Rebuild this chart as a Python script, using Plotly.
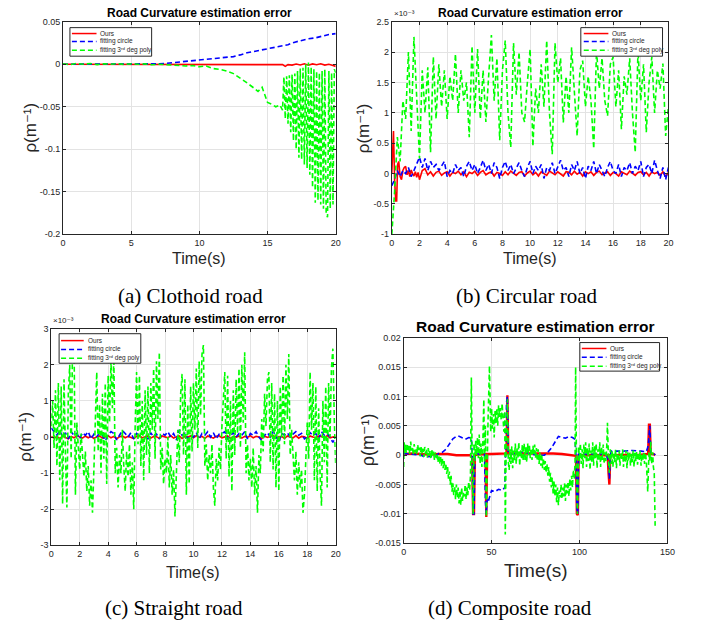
import plotly.graph_objects as go

W, H = 703, 632

# ---------------- DATA ----------------
# (a) Clothoid road  (time s, curvature error)
a_red_pts = [(0, 0), (15.9, 0), (16.1, -0.0005), (16.3, -0.0025), (16.5, -0.0005), (16.8, -0.001),
             (17.1, 0.0003), (17.4, -0.0008), (17.7, 0.0005), (18.0, -0.0012), (18.3, 0.0004),
             (18.6, -0.0006), (18.9, 0.0006), (19.2, -0.001), (19.5, 0.0), (19.8, -0.0015), (20.0, -0.0025)]
a_blue_pts = [(0, 0), (2, 0), (4, 0), (6, 0.0002), (7, 0.0005), (7.5, 0.001), (8, 0.0018), (8.5, 0.0025),
              (9, 0.0033), (9.5, 0.004), (10, 0.005), (11, 0.0065), (12, 0.008), (12.5, 0.009),
              (13, 0.011), (13.5, 0.0135), (14, 0.015), (14.5, 0.0165), (15, 0.0184), (15.5, 0.020),
              (16, 0.021), (16.5, 0.023), (17, 0.026), (17.5, 0.028), (18, 0.030), (18.5, 0.031),
              (19, 0.033), (19.5, 0.035), (20, 0.036)]
a_green_pts = [(0, 0.0005), (0.5, -0.0005), (1, 0.001), (1.5, 0.0), (2, 0.0008), (2.5, -0.0004), (3, 0.0006),
               (3.5, 0.0), (4, 0.0008), (4.5, -0.0003), (5, 0.0005), (5.5, 0.0), (6, 0.0004), (6.5, -0.0006),
               (7, 0.0), (7.5, -0.0005), (8, -0.001), (8.5, -0.0008), (9, -0.002), (9.5, -0.0015), (10, -0.003),
               (10.5, -0.002), (11, -0.005), (11.5, -0.006), (12, -0.008), (12.5, -0.011), (13, -0.016),
               (13.5, -0.022), (14, -0.028), (14.3, -0.032), (14.6, -0.027), (14.8, -0.036), (15, -0.045),
               (15.3, -0.047), (15.6, -0.05), (15.9, -0.048), (16.1, -0.054),
               (16.2, -0.015), (16.3, -0.064), (16.4, -0.014), (16.5, -0.07), (16.6, -0.013), (16.7, -0.08),
               (16.8, -0.012), (16.9, -0.09), (17.0, -0.011), (17.1, -0.1), (17.2, -0.008), (17.3, -0.11),
               (17.4, -0.005), (17.5, -0.112), (17.6, -0.004), (17.7, -0.118), (17.8, 0.0), (17.9, -0.122),
               (18.0, 0.002), (18.1, -0.13), (18.2, -0.003), (18.3, -0.145), (18.4, -0.006), (18.5, -0.163),
               (18.6, -0.008), (18.7, -0.16), (18.8, -0.01), (18.9, -0.165), (19.0, -0.008), (19.1, -0.17),
               (19.2, -0.006), (19.3, -0.175), (19.4, -0.18), (19.5, -0.008), (19.6, -0.17), (19.7, -0.01),
               (19.8, -0.165), (19.9, -0.006), (20.0, -0.01)]

# (b) Circular road, values in units of 1e-3
b_step = 0.2
b_red_head_pts = [(0, 0.0), (0.08, 0.7), (0.12, 0.7), (0.2, -0.1), (0.28, -0.45), (0.35, -0.45), (0.42, 0.15),
                  (0.5, 0.2), (0.6, -0.05), (0.7, -0.1), (0.8, 0.05), (0.9, 0.1), (1.0, 0.12), (1.1, -0.02),
                  (1.2, 0.05), (1.3, -0.05), (1.4, 0.06), (1.5, 0.0), (1.6, -0.04), (1.7, 0.03), (1.8, -0.06),
                  (1.9, 0.02)]
b_red_tail = [-0.1, 0.05, 0.08, -0.02, 0.03,
              -0.04, 0.02, 0.04, -0.03, 0.01,
              0.03, -0.04, 0.02, 0.0, 0.04,
              -0.02, 0.03, -0.05, 0.02, 0.0,
              0.04, -0.03, 0.02, 0.05, -0.02,
              0.01, 0.03, -0.04, 0.02, 0.0,
              -0.03, 0.03, -0.02, 0.04, 0.0,
              -0.03, 0.02, 0.03, -0.04, 0.01,
              0.04, -0.02, 0.02, -0.04, 0.03,
              0.0, -0.03, 0.04, 0.01, -0.02,
              0.03, 0.0, -0.04, 0.03, 0.02,
              -0.02, 0.04, -0.01, 0.02, -0.04,
              0.03, 0.0, 0.03, -0.03, 0.02,
              0.04, -0.02, 0.01, 0.03, -0.03,
              0.02, 0.0, -0.04, 0.03, 0.01,
              -0.02, 0.04, 0.0, -0.03, 0.02,
              0.03, -0.02, 0.02, -0.04, 0.03,
              0.0, 0.02, -0.03, 0.03, -0.05,
              0.02]
b_blue = [-0.2, -0.1, 0.05, -0.05, 0.05, 0.0, 0.1, -0.05, 0.05, 0.15,
          0.27, 0.1, 0.25, 0.05, 0.2, 0.1, 0.15, 0.05, 0.12, 0.2,
          -0.05, 0.05, 0.0, 0.15, 0.05, 0.1, -0.05, 0.12, 0.2, 0.05,
          0.15, 0.0, 0.1, 0.22, 0.05, 0.15, 0.0, 0.18, 0.1, -0.08,
          0.1, 0.2, 0.05, 0.15, 0.0, 0.1, 0.18, 0.05, -0.05, 0.1,
          0.2, 0.0, 0.12, 0.05, 0.15, -0.08, 0.1, 0.05, 0.18, 0.0,
          0.12, 0.22, 0.05, 0.1, -0.05, 0.15, 0.05, 0.2, 0.0, 0.1,
          -0.08, 0.12, 0.05, 0.2, 0.0, 0.15, 0.05, -0.05, 0.1, 0.2,
          0.05, 0.0, 0.15, -0.05, 0.1, 0.05, 0.18, 0.0, 0.12, 0.05,
          0.2, -0.05, 0.1, 0.15, 0.0, 0.22, 0.05, -0.08, 0.1, -0.1,
          0.1]
b_green = [-1.0, -0.3, 0.6, 0.2, 1.2, 0.9, 2.0, 0.7, 2.25, 1.3,
           0.25, 1.7, 1.0, 1.75, 0.35, 1.92, 0.9, 1.8, 1.1, 1.7,
           0.9, 1.6, 1.2, 1.97, 1.0, 1.7, 1.2, 1.5, 0.6, 2.1,
           1.0, 2.05, 0.9, 1.7, 0.85, 1.6, 2.28, 1.2, 1.9, 0.55,
           1.7, 2.19, 1.0, 0.43, 2.15, 1.3, 2.0, 1.0, 0.85, 1.5,
           2.05, 0.45, 1.4, 1.0, 1.8, 1.1, 2.19, 1.0, 0.32, 2.15,
           1.5, 1.9, 0.84, 1.6, 1.0, 2.08, 1.3, 0.62, 1.7, 1.86,
           1.1, 1.6, 1.2, 0.41, 2.03, 1.4, 1.9, 1.2, 0.95, 1.8,
           1.92, 1.1, 1.7, 0.73, 1.6, 1.3, 1.9, 1.0, 0.35, 2.03,
           1.2, 1.8, 0.68, 1.5, 1.92, 1.0, 1.7, 1.4, 1.81, 0.62,
           1.1]

# (c) Straight road, values in units of 1e-3
c_step_lines = 0.2
c_step_green = 0.1
c_red = [0.02, -0.03, 0.01, -0.04, 0.03, 0.0, -0.05, 0.02, -0.02, 0.04,
         0.0, -0.03, 0.03, -0.02, 0.02, -0.04, 0.01, 0.03, -0.03, 0.0,
         0.04, -0.02, 0.02, -0.05, 0.01, 0.03, -0.02, 0.02, 0.0, -0.04,
         0.02, 0.04, -0.02, 0.0, 0.03, -0.03, 0.02, 0.01, -0.04, 0.03,
         0.0, -0.02, 0.04, -0.03, 0.01, 0.03, -0.04, 0.02, 0.0, 0.03,
         -0.02, 0.04, -0.01, 0.02, -0.04, 0.03, 0.0, -0.03, 0.02, 0.04,
         -0.02, 0.01, 0.03, -0.04, 0.02, 0.0, 0.03, -0.03, 0.02, -0.01,
         0.04, -0.02, 0.02, 0.0, -0.04, 0.03, -0.01, 0.02, 0.04, -0.03,
         0.01, 0.02, -0.04, 0.03, 0.0, -0.02, 0.04, -0.03, 0.02, 0.01,
         -0.04, 0.03, 0.0, -0.02, 0.03, 0.02, -0.03, 0.04, -0.02, 0.01,
         0.02]
c_blue = [0.25, 0.15, 0.05, 0.18, 0.0, 0.12, -0.05, 0.15, 0.05, 0.1,
          -0.05, 0.12, 0.05, 0.15, -0.05, 0.08, 0.0, 0.12, 0.05, -0.1,
          0.05, 0.15, 0.1, -0.08, 0.05, 0.18, 0.1, 0.0, 0.12, -0.05,
          0.1, 0.05, 0.15, 0.0, -0.05, 0.12, 0.0, 0.08, -0.05, 0.1,
          0.05, 0.15, 0.0, 0.1, -0.08, 0.2, 0.05, 0.1, -0.05, 0.05,
          0.0, 0.12, -0.05, 0.1, 0.05, 0.15, 0.0, 0.12, -0.05, 0.08,
          0.1, 0.15, -0.05, 0.05, 0.12, 0.0, 0.1, 0.05, 0.15, -0.05,
          0.1, 0.05, 0.15, 0.0, -0.1, 0.05, 0.12, 0.0, 0.15, 0.05,
          -0.15, 0.1, 0.05, 0.12, 0.0, 0.08, 0.15, 0.05, 0.1, -0.05,
          0.0, 0.12, 0.05, 0.1, -0.05, 0.15, 0.05, 0.1, 0.0, -0.15,
          0.0]
c_green = [0.3, 1.0, -0.3, 1.3, -0.8, 1.5, -1.2, 1.4, -1.85, 1.6,
           -0.5, -1.95, 1.2, 2.0, -0.6, 2.6, 2.8, -1.6, 0.4, -0.3,
           -0.9, 0.1, -0.6, -1.1, -0.4, -1.5, -0.8, -1.9, -1.2, -2.1,
           -0.9, 0.8, 1.8, -0.4, 0.9, -1.0, 1.2, -0.6, 1.5, -1.3,
           1.7, 0.4, 2.1, 0.8, 2.2, -1.0, -0.3, -1.4, -0.5, -1.0,
           0.2, -0.8, -1.5, -0.4, -1.1, -0.2, -1.6, -0.7, -2.0, 0.3,
           1.8, -0.2, 1.7, -0.8, 1.0, -1.2, 1.3, -0.5, 1.4, -1.0,
           1.5, 0.2, 1.9, -0.6, 2.1, 0.5, 2.35, -0.9, -0.3, -1.3,
           -0.6, -1.0, 0.0, -1.4, -0.5, -1.6, -0.9, -2.2, -1.0, 0.2,
           -0.7, 1.2, 1.75, -0.5, 1.6, -1.6, 0.9, -1.3, 1.4, -0.4,
           1.5, 0.2, 1.9, -0.3, 2.1, 0.6, 2.3, 2.55, -0.8, -0.2,
           -1.2, -0.5, -1.0, -0.2, -1.4, -1.9, -0.6, -1.2, -0.3, -0.9,
           0.3, 1.2, 1.8, -0.6, 1.7, -1.1, 1.0, -1.5, 1.3, -0.5,
           1.6, 0.1, 1.9, -0.3, 2.0, 0.4, 2.35, -1.0, -0.2, -1.2,
           -0.6, -1.4, -0.3, -1.6, -0.8, -2.1, -0.5, -1.0, 0.5, -0.4,
           1.2, 0.3, 1.6, 1.8, -0.7, 1.5, -0.9, 1.2, -1.4, 1.0,
           -1.5, 1.4, 0.0, 1.7, -0.2, 2.0, 0.5, 2.3, -0.5, 0.2,
           -0.5, -1.2, -0.4, -1.6, -0.7, -1.4, -0.9, -2.1, -1.6, -0.5,
           0.4, -0.6, 1.8, 0.2, 1.5, -1.2, 1.4, -1.5, 0.8, -1.0,
           -1.9, 1.0, -0.7, 1.4, -1.4, 1.5, 0.0, 1.9, 2.45, 0.5,
           -0.8]

# (d) Composite road, values in units of 1e-3
d_red_pts = [(0, 0.2), (5, 0.3), (10, 0.2), (15, 0.1), (20, 0.2), (25, 0.2), (30, 0.0), (35, 0.0), (38, 0.0),
             (39, -0.5), (39.5, -10.0), (40, -10.0), (40.5, 0.0), (42, 0.1), (45, 0.2), (46.5, 0.2),
             (47, -10.5), (47.5, 0.2), (50, 0.2), (55, 0.3), (58.5, 0.3), (59, 10.2), (59.5, 0.3), (60, 0.3),
             (65, 0.3), (70, 0.3), (75, 0.3), (80, 0.4), (85, 0.3), (90, 0.2), (95, 0.0), (98, -0.1),
             (98.5, -10.0), (99, -10.2), (99.5, 0.0), (100, 0.0), (105, 0.1), (110, 0.1), (116, 0.0),
             (116.5, -3.0), (117, -5.0), (117.5, 0.0), (120, 0.0), (125, 0.1), (130, 0.1), (135, 0.1),
             (139, 0.2), (139.5, 5.2), (140, 5.2), (140.5, 0.2), (142, 0.2), (143, 0.0)]
d_blue_pts = [(0, 0.3), (5, 0.2), (10, 0.0), (12, -0.3), (15, -0.3), (18, -0.2), (20, 0.3), (22, 0.5),
              (24, 1.0), (26, 2.0), (28, 2.8), (30, 3.2), (31, 3.3), (33, 3.0), (35, 2.7), (37, 3.0),
              (38.5, 2.9), (39, 0.0), (39.5, -10.0), (40, -10.0), (40.5, 0.2), (42, 0.2), (46, 0.2),
              (46.5, -8.0), (47, -10.0), (47.5, -7.5), (48, -8.0), (49, -7.0), (50, -6.0), (52, -6.2),
              (54, -5.8), (56, -6.0), (57.5, -5.5), (58, 0.0), (58.5, 9.0), (59, 10.0), (59.5, 0.5),
              (60, 0.2), (65, 0.3), (68, 0.6), (72, 0.2), (76, 0.0), (80, 0.0), (82, 0.5), (84, 1.2),
              (86, 2.2), (88, 3.2), (90, 3.0), (92, 2.9), (94, 3.2), (96, 3.0), (97.5, 2.7), (98, 0.0),
              (98.5, -9.0), (99, -10.0), (99.5, 0.2), (100, 0.2), (110, 0.2), (115, 0.2), (116.5, -1.0),
              (117, -4.0), (117.5, 0.0), (118, 0.7), (125, 0.7), (130, 0.8), (135, 0.7), (138, 0.6),
              (139, 1.5), (139.5, 4.5), (140, 5.0), (140.5, 0.5), (142, 0.5), (143, 0.0)]
d_green_pts = [
    (0, -2.0), (0.3, 2.2), (0.5, 0.3), (1.0, 1.8), (1.5, 0.4), (2.0, 2.0), (2.5, 0.6), (3.0, 1.6), (3.5, 0.2),
    (4.0, 2.3), (4.5, 0.8), (5.0, 1.5), (5.5, 0.0), (6.0, 1.9), (6.5, 0.5), (7.0, 1.2), (7.5, 0.1), (8.0, 1.8),
    (8.5, 0.6), (9.0, 1.3), (9.5, -0.2), (10.0, 1.5), (10.5, 0.3), (11.0, 1.1), (11.5, -0.3), (12.0, 1.4),
    (12.5, 0.2), (13.0, 1.0), (13.5, -0.4), (14.0, 1.2), (14.5, 0.0), (15.0, 0.8), (15.5, -0.6), (16.0, 1.0),
    (16.5, -0.3), (17.0, 0.6), (17.5, -0.8), (18.0, 0.5), (18.5, -0.5), (19.0, 0.3), (19.5, -1.2), (20.0, 0.0),
    (20.5, -1.5), (21, -0.2), (21.5, -1.8), (22, -0.6), (22.5, -2.2), (23, -1.0), (23.5, -2.5), (24, -1.5),
    (24.5, -3.2), (25, -2.0), (25.5, -4.0), (26, -2.8), (26.5, -5.0), (27, -3.5), (27.5, -6.2), (28, -4.8),
    (28.5, -6.8), (29, -5.2), (29.5, -7.5), (30, -5.0), (30.5, -7.2), (31, -5.5), (31.5, -8.2), (32, -6.0),
    (32.5, -8.5), (33, -5.5), (33.5, -7.8), (34, -6.2), (34.5, -7.0), (35, -5.0), (35.5, -7.5), (36, -5.5),
    (36.5, -6.8), (37, -4.5), (37.5, -6.0), (38, -3.5),
    (38.5, 13.2), (39, -2.0), (39.5, -10.0), (40, 2.0), (40.5, -1.0), (41, 2.5), (41.5, 0.0), (42, 3.0),
    (42.5, -0.5), (43, 3.5), (43.5, -1.5), (44, 2.0), (44.5, -2.0), (45, 1.5), (45.6, 9.5), (46, -2.0),
    (46.5, 5.0), (47, -10.5), (47.5, 2.0), (48, 6.0), (48.8, 15.2), (49.5, 4.0), (50, 8.0), (50.5, 4.5),
    (51, 7.0), (51.5, 3.0), (52, 7.5), (52.5, 5.5), (53, 8.0), (53.5, 5.0), (54, 8.5), (54.5, 6.5), (55, 8.0),
    (55.5, 6.0), (56, 8.8), (56.5, 5.0), (57, 4.0), (57.5, 7.5), (57.8, -13.5), (58.3, 2.0), (59, 9.5),
    (59.5, -1.0),
    (60, -2.5), (60.5, 1.0), (61, -1.5), (61.5, 1.5), (62, -2.2), (62.5, 0.8), (63, -1.0), (63.5, 2.0),
    (64, -1.5), (64.5, 1.2), (65, -0.5), (65.5, 2.2), (66, -1.8), (66.5, 1.0), (67, -0.5), (67.5, 1.8),
    (68, -1.0), (68.5, 2.0), (69, -0.8), (69.5, 1.5), (70, -1.2), (70.5, 2.0), (71, 0.0), (71.5, 1.8),
    (72, -0.5), (72.5, 1.2), (73, -0.8), (73.5, 1.6), (74, 0.2), (74.5, 1.8), (75, -0.5), (75.5, 1.2),
    (76, -1.0), (76.5, 1.0), (77, -1.5), (77.5, 0.5), (78, -1.8), (78.5, 0.2), (79, -2.2), (79.5, -0.5),
    (80, -2.5), (80.5, -1.0), (81, -3.0), (81.5, -1.5), (82, -3.5), (82.5, -2.0), (83, -4.5), (83.5, -3.0),
    (84, -5.5), (84.5, -3.8), (85, -6.5), (85.5, -4.5), (86, -7.0), (86.5, -5.0), (87, -8.0), (87.5, -5.5),
    (88, -8.5), (88.5, -6.0), (89, -7.2), (89.5, -5.0), (90, -7.5), (90.5, -5.5), (91, -7.0), (91.5, -4.8),
    (92, -7.8), (92.5, -5.0), (93, -6.5), (93.5, -4.5), (94, -7.0), (94.5, -4.0), (95, -6.0), (95.5, -3.5),
    (96, -5.5), (96.5, -2.5), (97, -4.0), (97.5, -1.0), (97.8, 15.0), (98.3, -2.0), (98.8, -10.0),
    (99.5, 1.5),
    (100, -1.0), (100.5, 2.0), (101, -1.5), (101.5, 1.0), (102, -2.2), (102.5, 1.8), (103, -0.5), (103.5, 2.2),
    (104, -2.0), (104.5, 1.2), (105, -1.0), (105.5, 2.0), (106, -2.5), (106.5, 0.8), (107, -1.2), (107.5, 2.2),
    (108, -1.8), (108.5, 1.5), (109, -0.5), (109.5, 2.0), (110, -2.2), (110.5, 1.0), (111, -1.0), (111.5, 2.2),
    (112, -2.0), (112.5, 1.5), (113, -0.8), (113.5, 1.8), (114, -1.5), (114.5, 0.5), (115, -1.0), (115.5, 1.5),
    (115.9, 5.5), (116.5, -1.0), (117, -3.0), (117.5, 1.0),
    (118, -1.5), (118.5, 0.8), (119, -2.0), (119.5, 0.5), (120, -1.2), (120.5, 1.0), (121, -2.2), (121.5, 0.3),
    (122, -1.0), (122.5, 0.8), (123, -1.8), (123.5, 0.5), (124, -0.8), (124.5, 1.0), (125, -2.0), (125.5, 0.2),
    (126, -1.2), (126.5, 0.8), (127, -2.2), (127.5, 0.5), (128, -1.0), (128.5, 0.6), (129, -1.8), (129.5, 0.2),
    (130, -1.2), (130.5, 0.8), (131, -2.0), (131.5, 0.4), (132, -1.0), (132.5, 0.6), (133, -1.6), (133.5, 0.3),
    (134, -0.8), (134.5, 0.7), (135, -1.8), (135.5, 0.2), (136, -1.0), (136.5, 0.5), (137, -1.5), (137.5, 0.4),
    (138, -1.0), (138.8, -6.2), (139.5, 0.5), (140, -1.0), (140.5, 2.3), (141, -1.5), (141.6, 0.5),
    (142, -2.0), (142.5, -3.0), (143, -12.0)]

series_names = ["Ours", "fitting circle", "fitting 3ʳᵈ deg poly"]
series_colors = ["#ff0000", "#0000ff", "#00ff00"]
series_dash = ["solid", "5px,3px", "5px,3px"]

a_yticks = [-0.2, -0.15, -0.1, -0.05, 0, 0.05]
a_yticktext = ["-0.2", "-0.15", "-0.1", "-0.05", "0", "0.05"]
a_xticks = [0, 5, 10, 15, 20]
b_yticks = [-1, -0.5, 0, 0.5, 1, 1.5, 2, 2.5]
b_yticktext = ["-1", "-0.5", "0", "0.5", "1", "1.5", "2", "2.5"]
bc_xticks = [0, 2, 4, 6, 8, 10, 12, 14, 16, 18, 20]
c_yticks = [-3, -2, -1, 0, 1, 2, 3]
c_yticktext = ["-3", "-2", "-1", "0", "1", "2", "3"]
d_yticks = [-0.015, -0.01, -0.005, 0, 0.005, 0.01, 0.015, 0.02]
d_yticktext = ["-0.015", "-0.01", "-0.005", "0", "0.005", "0.01", "0.015", "0.02"]
d_xticks = [0, 50, 100, 150]

# ---------------- helpers ----------------
def split(pts, scale=1.0):
    return [p[0] for p in pts], [p[1] * scale for p in pts]

def grid(vals, step, start=0.0):
    return [round(start + i * step, 4) for i in range(len(vals))]

def fx(x):
    return x / W

def fy(y):
    return 1 - y / H

fig = go.Figure()

def add(xs, ys, k, ax, width=1.6):
    fig.add_trace(go.Scatter(
        x=xs, y=ys, mode="lines", showlegend=False,
        line=dict(color=series_colors[k], width=width, dash=series_dash[k]),
        xaxis="x" + ax, yaxis="y" + ax))

# (a)
x, y = split(a_red_pts); add(x, y, 0, "")
x, y = split(a_blue_pts); add(x, y, 1, "")
x, y = split(a_green_pts); add(x, y, 2, "")
# (b)
hx, hy = split(b_red_head_pts)
add(hx + grid(b_red_tail, b_step, 2.0), hy + b_red_tail, 0, "2")
add(grid(b_blue, b_step), b_blue, 1, "2")
add(grid(b_green, b_step), b_green, 2, "2")
# (c)
add(grid(c_red, c_step_lines), c_red, 0, "3")
add(grid(c_blue, c_step_lines), c_blue, 1, "3")
add(grid(c_green, c_step_green), c_green, 2, "3")
# (d)
x, y = split(d_red_pts, 1e-3); add(x, y, 0, "4", width=2.4)
x, y = split(d_blue_pts, 1e-3); add(x, y, 1, "4")
x, y = split(d_green_pts, 1e-3); add(x, y, 2, "4")

FONT = "Liberation Sans, Arial, DejaVu Sans, sans-serif"
axis_common = dict(showline=True, linecolor="#262626", linewidth=1, mirror="ticks",
                   ticks="inside", ticklen=3, tickcolor="#262626", showgrid=True,
                   gridcolor="#e3e3e3", gridwidth=1, zeroline=False, fixedrange=True,
                   tickfont=dict(family=FONT, size=9, color="#262626"))

boxes = {"": (61, 17, 338, 233), "2": (395, 17, 676, 233),
         "3": (49, 329, 338, 549), "4": (407, 338, 675, 547)}

layout_axes = {}
specs = {
    "": dict(xr=[0, 20], xt=a_xticks, yr=[-0.2, 0.05], yt=a_yticks, ytt=a_yticktext),
    "2": dict(xr=[0, 20], xt=bc_xticks, yr=[-1, 2.5], yt=b_yticks, ytt=b_yticktext),
    "3": dict(xr=[0, 20], xt=bc_xticks, yr=[-3, 3], yt=c_yticks, ytt=c_yticktext),
    "4": dict(xr=[0, 150], xt=d_xticks, yr=[-0.015, 0.02], yt=d_yticks, ytt=d_yticktext),
}
for ax, (x0, y0, x1, y1) in boxes.items():
    s = specs[ax]
    n = ax if ax else ""
    layout_axes["xaxis" + n] = dict(axis_common, domain=[fx(x0), fx(x1)], range=s["xr"],
                                    tickvals=s["xt"], ticktext=[str(v) for v in s["xt"]],
                                    anchor="y" + n)
    layout_axes["yaxis" + n] = dict(axis_common, domain=[fy(y1), fy(y0)], range=s["yr"],
                                    tickvals=s["yt"], ticktext=s["ytt"], anchor="x" + n)

fig.update_layout(width=W, height=H, autosize=False, margin=dict(l=0, r=0, t=0, b=0),
                  paper_bgcolor="white", plot_bgcolor="white", **layout_axes)

annotations = []
shapes = []

def text(x, y, s, size, family=FONT, angle=0, xanchor="center", yanchor="middle", color="#000000"):
    annotations.append(dict(x=fx(x), y=fy(y), xref="paper", yref="paper", text=s, showarrow=False,
                            textangle=angle, xanchor=xanchor, yanchor=yanchor,
                            font=dict(family=family, size=size, color=color)))

# titles
text(199.5, 8, "<b>Road Curvature estimation error</b>", 12)
text(535.5, 8, "<b>Road Curvature estimation error</b>", 12)
text(193.5, 319, "<b>Road Curvature estimation error</b>", 12)
text(541, 327, "<b>Road Curvature estimation error</b>", 15.5)
# x titles
text(199.5, 258, "Time(s)", 16, color="#262626")
text(535.5, 258, "Time(s)", 16, color="#262626")
text(193.5, 577, "Time(s)", 16, color="#262626")
text(541, 575, "Time(s)", 19, color="#262626")
# y titles
rho = "ρ(m⁻¹)"
text(27, 125, rho, 17, angle=-90, color="#262626")
text(366, 125, rho, 17, angle=-90, color="#262626")
text(22, 439, rho, 17, angle=-90, color="#262626")
text(371, 442, rho, 18, angle=-90, color="#262626")
# exponent labels
text(395, 9, "×10⁻³", 8, xanchor="left", color="#262626")
text(49, 321, "×10⁻³", 8, xanchor="left", color="#262626")
# captions
SERIF = "Liberation Serif, Times New Roman, serif"
text(190, 296, "(a) Clothoid road", 21, family=SERIF)
text(532, 296, "(b) Circular road", 21, family=SERIF)
text(174, 613, "(c) Straight road", 21, family=SERIF)
text(515, 613, "(d) Composite road", 21, family=SERIF)

# legends (one per panel)
legends = [
    dict(box=(68, 23, 151, 52), rows=(29, 37, 46), lx=(70, 95), tx=97),
    dict(box=(587, 23, 670, 52), rows=(29, 37, 46), lx=(590, 615), tx=617),
    dict(box=(57, 334, 140, 364), rows=(341, 350, 359), lx=(59, 82), tx=84),
    dict(box=(586, 343, 667, 372), rows=(349, 358, 367), lx=(588, 613), tx=615),
]
for lg in legends:
    bx0, by0, bx1, by1 = lg["box"]
    shapes.append(dict(type="rect", xref="paper", yref="paper", x0=fx(bx0), x1=fx(bx1),
                       y0=fy(by1), y1=fy(by0), line=dict(color="#262626", width=1),
                       fillcolor="white", layer="above"))
    for k, ry in enumerate(lg["rows"]):
        shapes.append(dict(type="line", xref="paper", yref="paper", x0=fx(lg["lx"][0]),
                           x1=fx(lg["lx"][1]), y0=fy(ry), y1=fy(ry), layer="above",
                           line=dict(color=series_colors[k], width=1.5, dash=series_dash[k])))
        text(lg["tx"], ry, series_names[k], 6.5, xanchor="left", color="#262626")

fig.update_layout(annotations=annotations, shapes=shapes)
fig.write_html("out.html", config={"displayModeBar": False},
               post_script="document.body.style.margin='0px';document.body.style.overflow='hidden';")
